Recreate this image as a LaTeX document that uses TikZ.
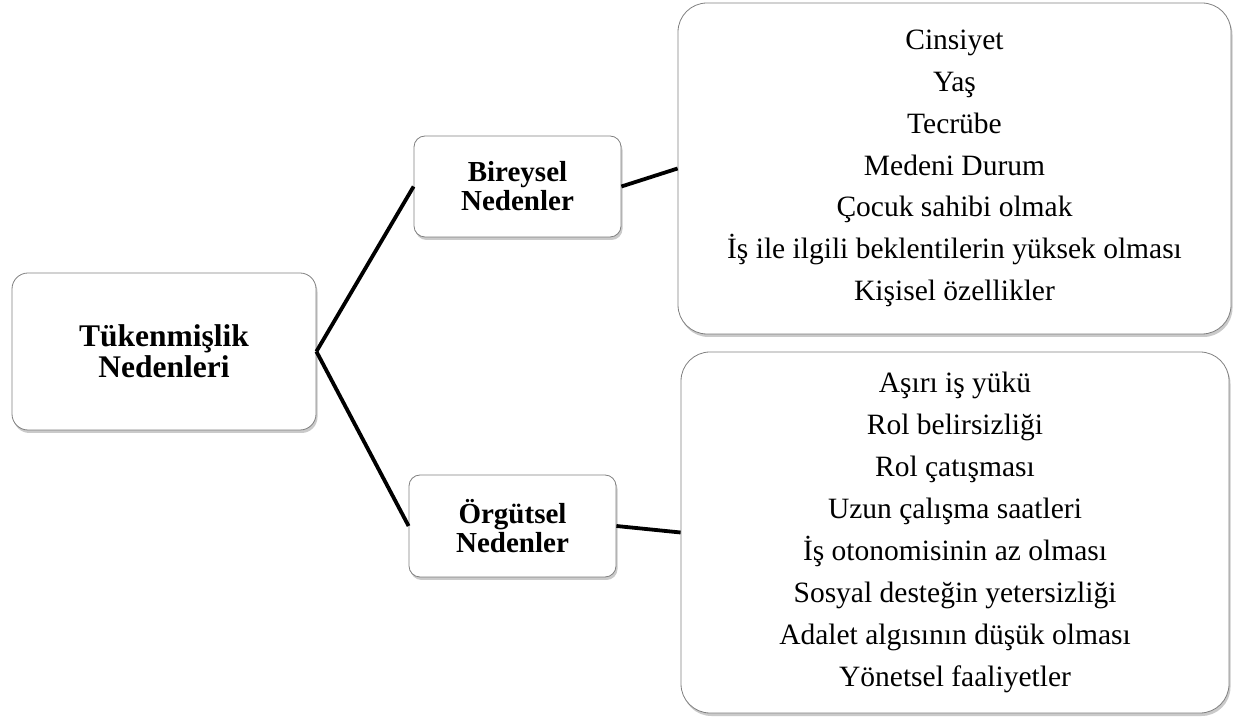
\documentclass[tikz,border=0pt]{standalone}
\usepackage{fontspec}
\setmainfont{Liberation Serif}
\usetikzlibrary{shadows}
\begin{document}
\begin{tikzpicture}[x=1pt,y=1pt,
  box/.style={draw=black!50, line width=0.8pt, fill=white, align=center, inner sep=0pt,
    drop shadow={shadow xshift=1.5pt, shadow yshift=-3pt, opacity=0.35, fill=black!60}},
  conn/.style={line width=3.8pt, black}]
\useasboundingbox (0,0) rectangle (1238,717);
\node[box, rounded corners=16pt, minimum width=304pt, minimum height=157pt,
  font=\bfseries\fontsize{31.5}{31}\selectfont] (main) at (164,365.5) {Tükenmişlik\\Nedenleri};
\node[box, rounded corners=11pt, minimum width=207pt, minimum height=101pt,
  font=\bfseries\fontsize{29}{29}\selectfont] (bir) at (517.5,530.5) {Bireysel\\Nedenler};
\node[box, rounded corners=11pt, minimum width=207pt, minimum height=102pt,
  font=\bfseries\fontsize{29}{29}\selectfont] (org) at (512.5,191) {Örgütsel\\Nedenler};
\node[box, rounded corners=29pt, minimum width=553pt, minimum height=331pt,
  font=\fontsize{29.5}{41.8}\selectfont] (top) at (954.5,548.5)
  {Cinsiyet\\Yaş\\Tecrübe\\Medeni Durum\\Çocuk sahibi olmak\\İş ile ilgili beklentilerin yüksek olması\\Kişisel özellikler};
\node[box, rounded corners=29pt, minimum width=548pt, minimum height=361pt,
  font=\fontsize{29.5}{41.9}\selectfont] (bot) at (955,184.5)
  {Aşırı iş yükü\\Rol belirsizliği\\Rol çatışması\\Uzun çalışma saatleri\\İş otonomisinin az olması\\Sosyal desteğin yetersizliği\\Adalet algısının düşük olması\\Yönetsel faaliyetler};
\draw[conn] (main.east) -- (bir.west);
\draw[conn] (main.east) -- (org.west);
\draw[conn] (bir.east) -- (top.west);
\draw[conn] (org.east) -- (bot.west);
\end{tikzpicture}
\end{document}
